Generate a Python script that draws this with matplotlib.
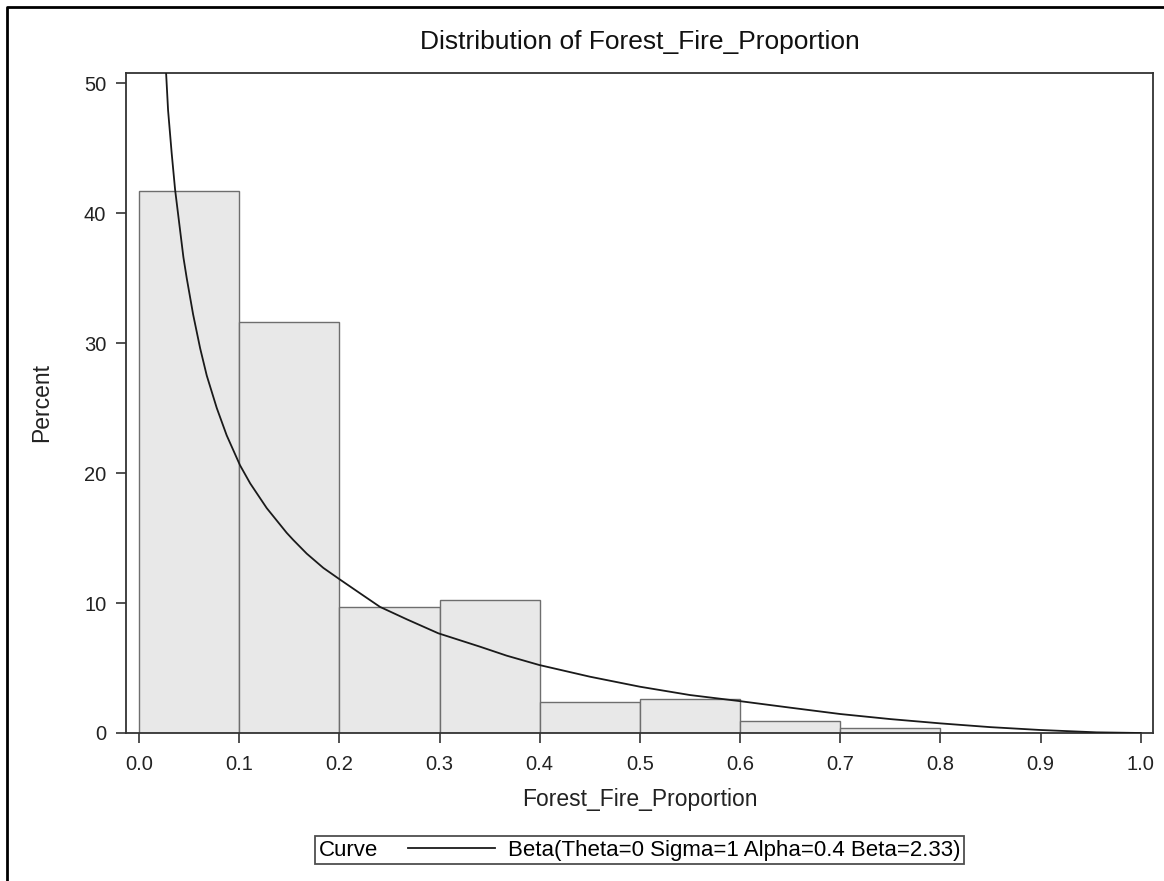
import numpy as np
import matplotlib
matplotlib.use("Agg")
import matplotlib.pyplot as plt
from matplotlib.lines import Line2D
from matplotlib.offsetbox import HPacker

plt.rcParams['font.family'] = ['Liberation Sans', 'DejaVu Sans']

# histogram bins (percent per 0.1 wide bin)
bin_left = [0.0, 0.1, 0.2, 0.3, 0.4, 0.5, 0.6, 0.7]
percent = [41.7, 31.6, 9.7, 10.2, 2.35, 2.65, 0.95, 0.35]

# fitted beta curve
curve_x = [0.027, 0.029, 0.0326, 0.036, 0.0443, 0.0476, 0.054, 0.061, 0.0676,
           0.0776, 0.0875, 0.1008, 0.111, 0.1275, 0.1474, 0.154, 0.1674, 0.184,
           0.2007, 0.2206, 0.2406, 0.2672, 0.2988, 0.3404, 0.367, 0.3996, 0.4502,
           0.5001, 0.55, 0.600, 0.650, 0.700, 0.750, 0.800, 0.850, 0.900, 0.956, 1.000]
curve_y = [50.8, 47.9, 44.6, 41.8, 36.6, 35.0, 32.2, 29.6, 27.5,
           25.0, 22.9, 20.6, 19.2, 17.3, 15.4, 14.85, 13.8, 12.7,
           11.8, 10.75, 9.7, 8.75, 7.67, 6.64, 5.95, 5.23, 4.33,
           3.56, 2.92, 2.45, 1.95, 1.46, 1.07, 0.74, 0.45, 0.23, 0.05, 0.0]

xticks = [0.0, 0.1, 0.2, 0.3, 0.4, 0.5, 0.6, 0.7, 0.8, 0.9, 1.0]
yticks = [0, 10, 20, 30, 40, 50]
curve_label = "Beta(Theta=0 Sigma=1 Alpha=0.4 Beta=2.33)"

fig = plt.figure(figsize=(11.64, 8.81), dpi=100)
ax = fig.add_axes([0.108, 0.168, 0.8828, 0.7495])

ax.bar(bin_left, percent, width=0.1, align='edge', color='#e8e8e8',
       edgecolor='#6e6e6e', linewidth=1.0, zorder=2)
curve, = ax.plot(curve_x, curve_y, color='#1a1a1a', linewidth=1.3, zorder=3)

ax.set_xlim(-0.0133, 1.0126)
ax.set_ylim(0, 50.8)
ax.set_xticks(xticks)
ax.set_xticklabels(["%.1f" % t for t in xticks])
ax.set_yticks(yticks)
ax.tick_params(labelsize=14.5, length=7, width=1.2, color='#333333', labelcolor='#222222')
ax.tick_params(axis='x', pad=9)
ax.tick_params(axis='y', pad=7)
for s in ax.spines.values():
    s.set_linewidth(1.3)
    s.set_color('#333333')

ax.set_xlabel("Forest_Fire_Proportion", fontsize=16.5, color='#222222', labelpad=10)
ax.set_ylabel("Percent", fontsize=16.5, color='#222222', labelpad=22)
ax.set_title("Distribution of Forest_Fire_Proportion", fontsize=19, color='#111111', pad=17)

leg = fig.legend([curve], [curve_label], title="Curve", loc='center',
                 bbox_to_anchor=(0.5495, 0.035), fontsize=16, title_fontsize=16,
                 frameon=True, fancybox=False, edgecolor='#222222',
                 handlelength=3.9, handletextpad=0.6, borderpad=0.15)
leg.get_frame().set_linewidth(1.3)
# put the "Curve" title to the left of the entry, like SAS does
old = leg._legend_box
box = HPacker(pad=old.pad, sep=22, align='center',
              children=[leg._legend_title_box, leg._legend_handle_box])
box.set_figure(fig)
box.axes = leg.axes
box.set_offset(leg._findoffset)
leg._legend_box = box

# screenshot border
fig.add_artist(Line2D([7 / 1164, 7 / 1164, 1.0], [0.0, 1 - 7 / 881, 1 - 7 / 881],
                      transform=fig.transFigure, color='black', linewidth=2))

fig.savefig("out.png", dpi=100)
